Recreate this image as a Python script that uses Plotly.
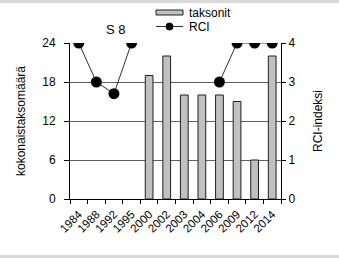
import plotly.graph_objects as go

years = ["1984", "1988", "1992", "1995", "2000", "2002", "2003", "2004", "2006", "2009", "2012", "2014"]
taksonit = [None, None, None, None, 19, 22, 16, 16, 16, 15, 6, 22]
rci = [4, 3, 2.7, 4, None, None, None, None, 3, 4, 4, 4]

W, H = 339, 258
L, R, T, B = 70, 58, 43, 59
pw, ph = W - L - R, H - T - B

def px(x):
    return (x - L) / pw

def py(y):
    return (H - B - y) / ph

fig = go.Figure()
fig.add_trace(go.Bar(x=years, y=taksonit, name="taksonit", width=0.44,
                     marker=dict(color="#c0c0c0", line=dict(color="#202020", width=1)),
                     yaxis="y"))
fig.add_trace(go.Scatter(x=years, y=rci, name="RCI", mode="lines+markers",
                         connectgaps=False,
                         line=dict(color="#303030", width=1),
                         marker=dict(color="black", size=11),
                         yaxis="y2"))

font = "Liberation Sans, Arial, sans-serif"
fig.update_layout(
    width=W, height=H,
    margin=dict(l=L, r=R, t=T, b=B, autoexpand=False),
    paper_bgcolor="white", plot_bgcolor="white",
    font=dict(family=font, size=12, color="black"),
    showlegend=False,
    xaxis=dict(type="category", range=[-0.5, 11.5], tickangle=-45,
               showline=True, linecolor="black", linewidth=1,
               ticks="outside", ticklen=4, tickcolor="black",
               tickson="boundaries", showgrid=False,
               ticklabelstandoff=3,
               tickfont=dict(size=11.5)),
    yaxis=dict(range=[0, 24], tickvals=[0, 6, 12, 18, 24],
               showline=True, linecolor="black", linewidth=1,
               ticks="outside", ticklen=5, tickcolor="black",
               ticklabelstandoff=6,
               showgrid=True, gridcolor="#606060", gridwidth=1,
               zeroline=False,
               title=dict(text="kokonaistaksomäärä", standoff=14, font=dict(size=12))),
    yaxis2=dict(range=[0, 4], tickvals=[0, 1, 2, 3, 4], overlaying="y", side="right",
                showline=True, linecolor="black", linewidth=1,
                ticks="outside", ticklen=4, tickcolor="black",
                showgrid=False, zeroline=False,
                title=dict(text="RCI-indeksi", standoff=19, font=dict(size=12))),
    annotations=[
        dict(text="S 8", x=px(104), y=py(20), xref="paper", yref="paper",
             showarrow=False, font=dict(size=13)),
        dict(text="taksonit", x=px(187), y=py(13), xref="paper", yref="paper",
             xanchor="left", yanchor="middle", showarrow=False, font=dict(size=12)),
        dict(text="RCI", x=px(187), y=py(27), xref="paper", yref="paper",
             xanchor="left", yanchor="middle", showarrow=False, font=dict(size=12)),
    ],
    shapes=[
        dict(type="rect", xref="paper", yref="paper", x0=px(0), x1=px(W), y0=py(0), y1=py(3),
             fillcolor="#d9d9d9", line=dict(width=0), layer="below"),
        dict(type="rect", xref="paper", yref="paper", x0=px(0), x1=px(W), y0=py(255), y1=py(H),
             fillcolor="#d9d9d9", line=dict(width=0), layer="below"),
        dict(type="rect", xref="paper", yref="paper", x0=px(156), x1=px(183), y0=py(10), y1=py(15),
             fillcolor="#c0c0c0", line=dict(color="#202020", width=1)),
        dict(type="line", xref="paper", yref="paper", x0=px(156), x1=px(183), y0=py(26.5), y1=py(26.5),
             line=dict(color="#303030", width=1)),
        dict(type="circle", xref="paper", yref="paper", x0=px(166), x1=px(173), y0=py(30), y1=py(23),
             fillcolor="black", line=dict(color="black", width=1)),
    ],
)

fig.write_html("out.html")
